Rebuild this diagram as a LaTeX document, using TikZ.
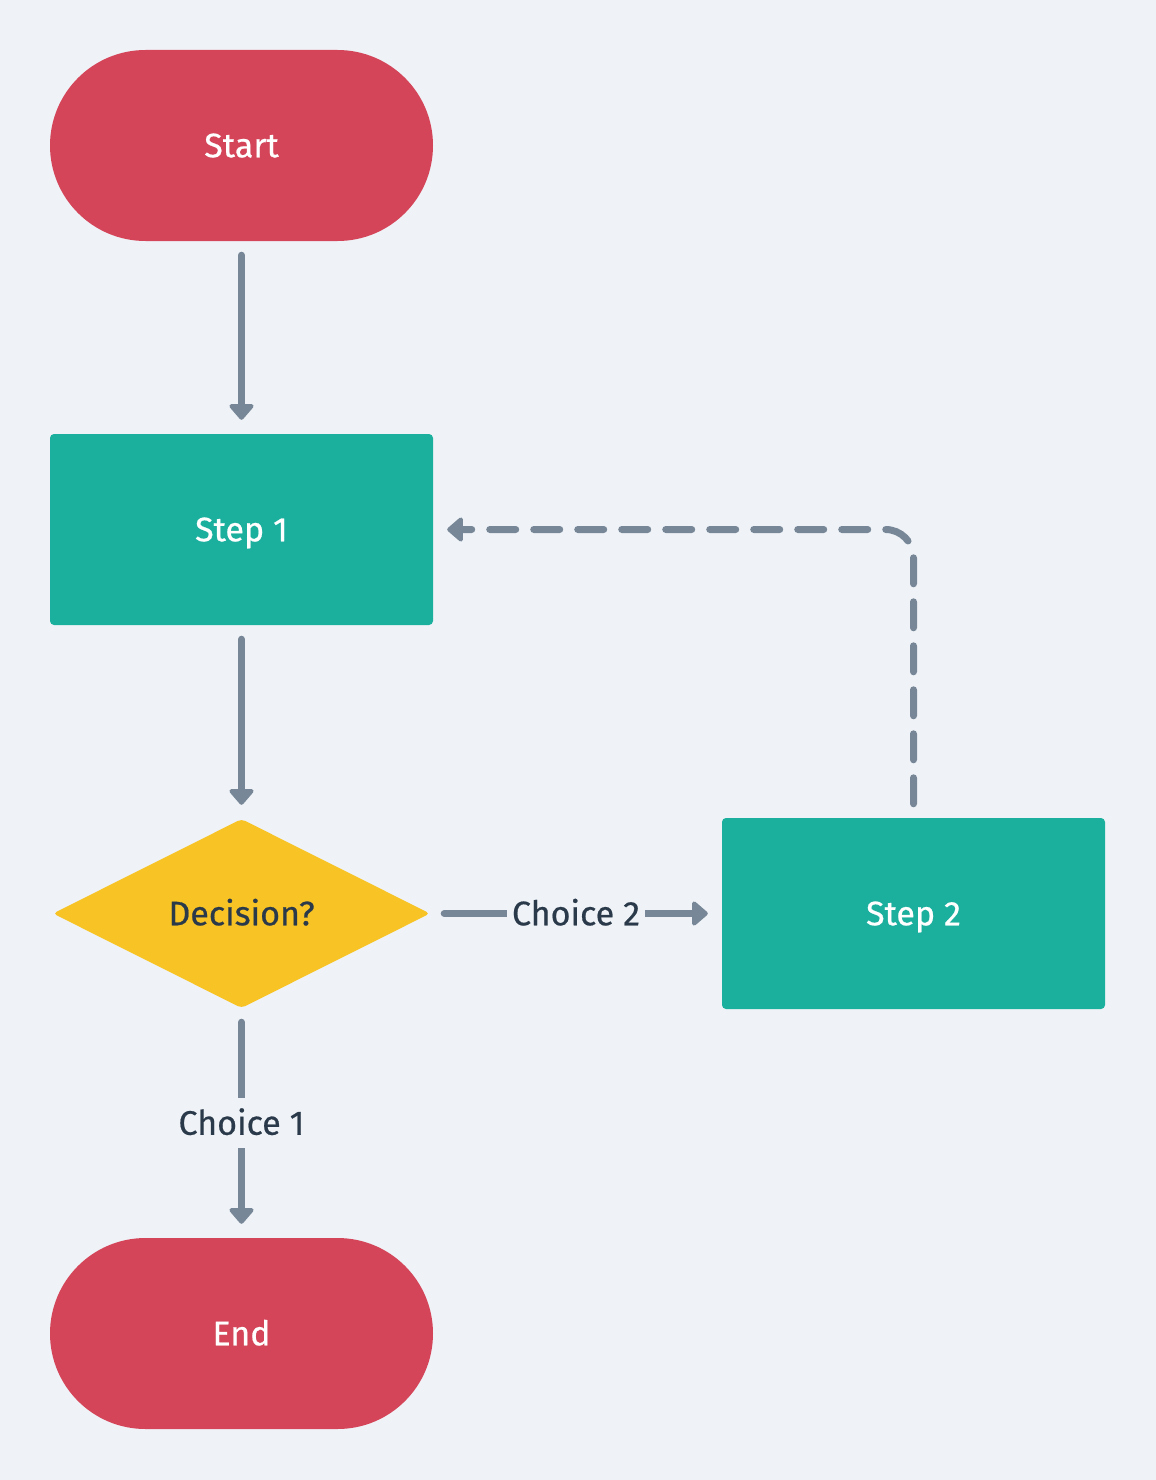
\documentclass[tikz,border=0pt]{standalone}
\usepackage{fontspec}
\setmainfont{Fira Sans}[FakeBold=0.6]
\usetikzlibrary{shapes.geometric,arrows.meta}
\definecolor{bg}{HTML}{EFF3F7}
\definecolor{termred}{HTML}{D44559}
\definecolor{stepteal}{HTML}{1BAF9E}
\definecolor{decyellow}{HTML}{F7C325}
\definecolor{edgegray}{HTML}{778797}
\definecolor{darktext}{HTML}{2B3A4A}
\tikzset{
  txt/.style={font=\fontsize{34}{40}\selectfont,text height=23.5pt,text depth=0pt},
  terminal/.style={shape=rectangle,rounded corners=95.5pt,fill=termred,minimum width=383pt,minimum height=191pt,inner sep=0pt,text=white,txt},
  process/.style={shape=rectangle,rounded corners=4pt,fill=stepteal,minimum width=383pt,minimum height=191pt,inner sep=0pt,text=white,txt},
  decision/.style={shape=diamond,fill=decyellow,minimum width=377pt,minimum height=189pt,aspect=2,inner sep=0pt,text=darktext,txt,rounded corners=4pt},
  conn/.style={draw=edgegray,line width=7pt,line cap=round,line join=round,-{Triangle[width=28pt,length=17pt,round]}},
  lbl/.style={text=darktext,txt,fill=bg,inner sep=7pt}
}
\begin{document}
\begin{tikzpicture}[x=1pt,y=-1pt]
\fill[bg] (0,0) rectangle (1156,1480);
\useasboundingbox (0,0) rectangle (1156,1480);
\node[terminal] (start) at (241.5,145.5) {Start};
\node[process] (s1) at (241.5,529.5) {Step 1};
\node[decision] (dec) at (241.5,913.5) {Decision?};
\node[process] (s2) at (913.5,913.5) {Step 2};
\node[terminal] (end) at (241.5,1333.5) {End};
\coordinate (corner) at (913.5,529.5);
\draw[conn,shorten <=14pt,shorten >=14pt] (start) -- (s1);
\draw[conn,shorten <=14pt,shorten >=14pt] (s1) -- (dec);
\draw[conn,shorten <=14pt,shorten >=14pt] (dec) -- node[lbl,inner ysep=13pt] (c1) {Choice 1} (end);
\draw[conn,shorten <=14pt,shorten >=14pt] (dec) -- node[lbl,inner xsep=5pt] (c2) {Choice 2} (s2);
\draw[conn,dash pattern=on 26pt off 18pt,shorten <=14pt,shorten >=14pt,rounded corners=28pt] (s2.north) -- (corner) -- (s1.east);
\end{tikzpicture}
\end{document}
